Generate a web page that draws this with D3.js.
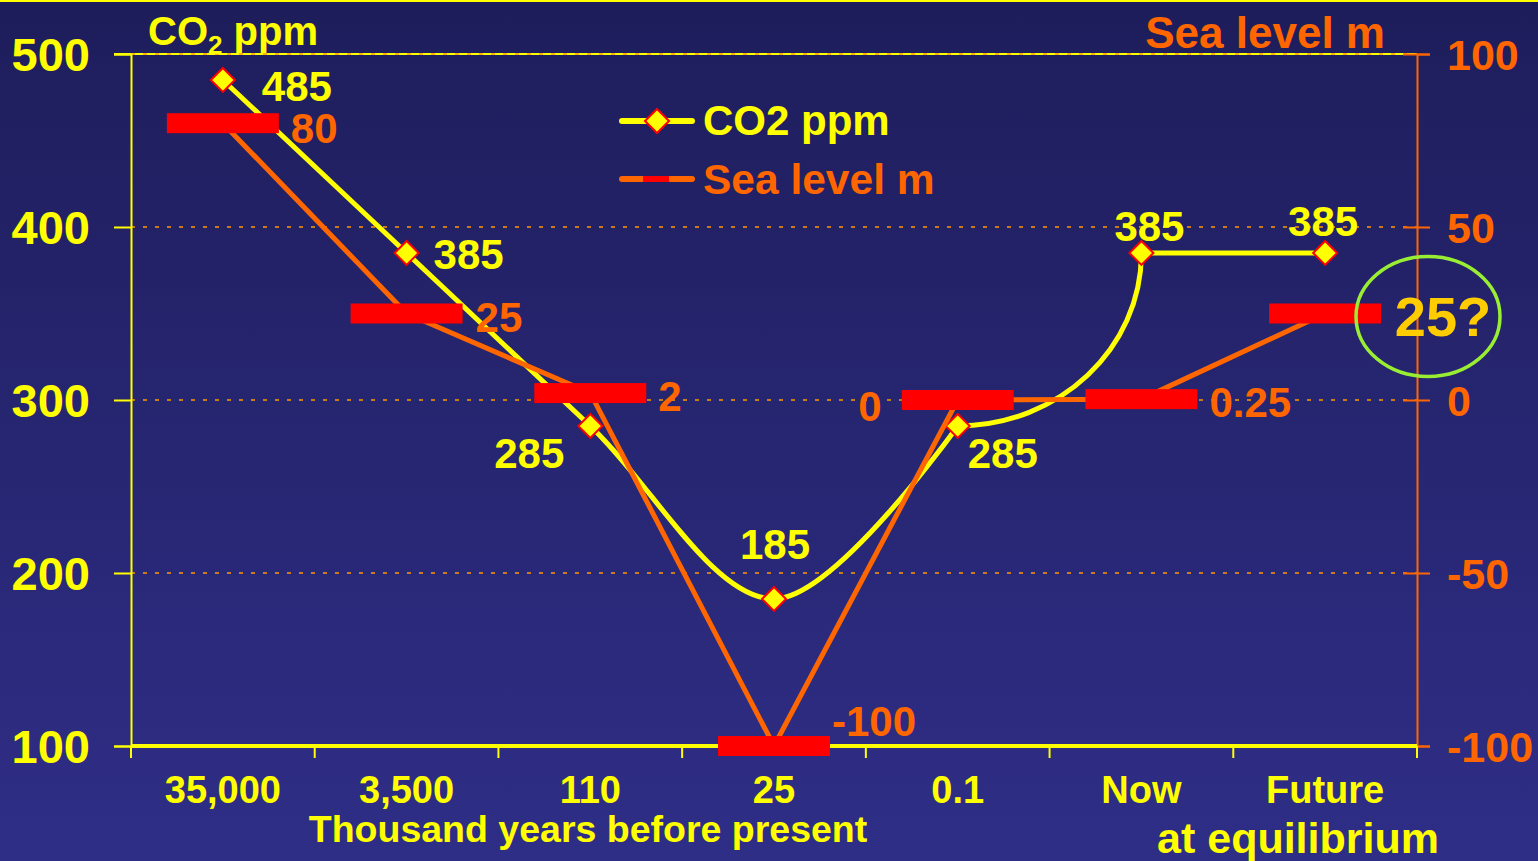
<!DOCTYPE html>
<html>
<head>
<meta charset="utf-8">
<script src="https://cdn.jsdelivr.net/npm/d3@7"></script>
<style>
  html, body { margin: 0; padding: 0; background: #26256f; }
  svg { display: block; }
  text { font-family: "Liberation Sans", Arial, sans-serif; font-weight: bold; }
</style>
</head>
<body>
<script>
// ---- data ----
const categories = ["35,000", "3,500", "110", "25", "0.1", "Now", "Future"];
const co2Values = [485, 385, 285, 185, 285, 385, 385];
const seaLevelValues = [80, 25, 2, -100, 0, 0.25, 25];
const co2LabelText = ["485", "385", "285", "185", "285", "385", "385"];
const seaLabelText = ["80", "25", "2", "-100", "0", "0.25", ""];
const leftTicks = [100, 200, 300, 400, 500];
const rightTicks = [-100, -50, 0, 50, 100];
const gridValues = [200, 300, 400, 500];
const seriesNames = ["CO2 ppm", "Sea level m"];

// ---- layout ----
const W = 1538, H = 861;
const L = 131, R = 1417, T = 54, B = 746;
const YELLOW = "#FFFF00", ORANGE = "#FF6600", RED = "#FF0000";

const svg = d3.select("body").append("svg").attr("width", W).attr("height", H);
const defs = svg.append("defs");
const grad = defs.append("linearGradient").attr("id", "bg").attr("x1", 0).attr("y1", 0).attr("x2", 0).attr("y2", 1);
grad.append("stop").attr("offset", "0%").attr("stop-color", "#1e1d5b");
grad.append("stop").attr("offset", "100%").attr("stop-color", "#2f2e87");
svg.append("rect").attr("width", W).attr("height", H).attr("fill", "url(#bg)");
svg.append("line").attr("x1", 0).attr("x2", W).attr("y1", 1).attr("y2", 1).attr("stroke", YELLOW).attr("stroke-width", 2);

const x = d3.scaleBand().domain(categories).range([L, R]).paddingInner(0).paddingOuter(0);
const yL = d3.scaleLinear().domain([100, 500]).range([B, T]);
const yR = d3.scaleLinear().domain([-100, 100]).range([B, T]);
const cx = c => x(c) + x.bandwidth() / 2;

// top border line (yellow)
svg.append("line").attr("x1", L - 17).attr("x2", R).attr("y1", yL(500)).attr("y2", yL(500))
  .attr("stroke", YELLOW).attr("stroke-width", 2);

// dotted grid lines
svg.append("g").selectAll("line").data(gridValues).join("line")
  .attr("x1", L).attr("x2", R).attr("y1", d => yL(d)).attr("y2", d => yL(d))
  .attr("stroke", "#FF9900").attr("stroke-width", 1.6).attr("stroke-dasharray", "4,8");

// left axis
const gL = svg.append("g").attr("transform", `translate(${L},0)`)
  .call(d3.axisLeft(yL).tickValues(leftTicks).tickSize(17).tickPadding(24).tickFormat(d => String(d)));
gL.select(".domain").attr("stroke", YELLOW).attr("stroke-width", 2);
gL.selectAll(".tick line").attr("stroke", YELLOW).attr("stroke-width", 2);
gL.selectAll(".tick text").attr("fill", YELLOW).style("font-size", "47px").attr("dy", "0.36em");

// right axis
const gR = svg.append("g").attr("transform", `translate(${R},0)`)
  .call(d3.axisRight(yR).tickValues(rightTicks).tickSize(13).tickPadding(17).tickFormat(d => String(d)));
gR.select(".domain").attr("stroke", ORANGE).attr("stroke-width", 2);
gR.selectAll(".tick line").attr("stroke", ORANGE).attr("stroke-width", 2).attr("x1", -14);
gR.selectAll(".tick text").attr("fill", ORANGE).style("font-size", "43px").attr("dy", "0.36em");

// bottom axis: ticks at category boundaries, labels at centres
const gB = svg.append("g").attr("transform", `translate(0,${B})`)
  .call(d3.axisBottom(x).tickSize(0).tickPadding(0));
gB.select(".domain").attr("stroke", YELLOW).attr("stroke-width", 4).attr("d", `M${L},0H${R}`);
gB.selectAll(".tick text").attr("fill", YELLOW).style("font-size", "38px").attr("y", 57).attr("dy", 0);
const bounds = categories.map(c => x(c)).concat([R]);
gB.selectAll("line.bound").data(bounds).join("line").attr("class", "bound")
  .attr("x1", d => d).attr("x2", d => d).attr("y1", 0).attr("y2", 12)
  .attr("stroke", YELLOW).attr("stroke-width", 2);

// axis titles
const t1 = svg.append("text").attr("x", 148).attr("y", 45).attr("fill", YELLOW).style("font-size", "40px");
t1.append("tspan").text("CO");
t1.append("tspan").text("2").style("font-size", "26px").attr("dy", 9);
t1.append("tspan").text(" ppm").attr("dy", -9);
svg.append("text").attr("x", 1385).attr("y", 48).attr("text-anchor", "end").attr("fill", ORANGE)
  .style("font-size", "44px").text("Sea level m");
svg.append("text").attr("x", 588).attr("y", 842).attr("text-anchor", "middle").attr("fill", YELLOW)
  .style("font-size", "37.5px").text("Thousand years before present");
svg.append("text").attr("x", 1298).attr("y", 853).attr("text-anchor", "middle").attr("fill", YELLOW)
  .style("font-size", "43px").text("at equilibrium");

// CO2 line: smoothed through the past, a rounded rise to "Now", straight to "Future"
const co2Pts = categories.map((c, i) => [cx(c), yL(co2Values[i])]);
const cp = d3.path();
d3.line().curve(d3.curveCatmullRom.alpha(0.5)).context(cp)(co2Pts.slice(0, 5));
{
  const [x4, y4] = co2Pts[4], [x5, y5] = co2Pts[5], k = 0.5523;
  cp.bezierCurveTo(x4 + k * (x5 - x4), y4, x5, y5 + k * (y4 - y5), x5, y5);
  cp.lineTo(co2Pts[6][0], co2Pts[6][1]);
}
svg.append("path").attr("d", cp.toString())
  .attr("fill", "none").attr("stroke", YELLOW).attr("stroke-width", 5).attr("stroke-linejoin", "round");
const diamond = (s) => `M0,${-s}L${s},0L0,${s}L${-s},0Z`;
svg.append("g").selectAll("path").data(co2Pts).join("path")
  .attr("transform", d => `translate(${d[0]},${d[1]})`).attr("d", diamond(12))
  .attr("fill", YELLOW).attr("stroke", RED).attr("stroke-width", 2);

// Sea level line
const seaPts = categories.map((c, i) => [cx(c), yR(seaLevelValues[i])]);
svg.append("path").attr("d", d3.line()(seaPts))
  .attr("fill", "none").attr("stroke", ORANGE).attr("stroke-width", 5).attr("stroke-linejoin", "round");
svg.append("g").selectAll("rect").data(seaPts).join("rect")
  .attr("x", d => d[0] - 56).attr("y", d => d[1] - 10).attr("width", 112).attr("height", 20).attr("fill", RED);

// data labels
const co2Layout = [[39, 6, "start"], [27, 1, "start"], [-26, 27, "end"], [1, -55, "middle"], [10, 27, "start"], [8, -27, "middle"], [-2, -32, "middle"]];
const seaLayout = [[68, 5, "start"], [69, 3, "start"], [68, 3, "start"], [58, -25, "start"], [-76, 6, "end"], [68, 3, "start"], [0, 0, "start"]];
svg.append("g").selectAll("text").data(co2Pts).join("text")
  .attr("x", (d, i) => d[0] + co2Layout[i][0]).attr("y", (d, i) => d[1] + co2Layout[i][1])
  .attr("dy", "0.36em").attr("text-anchor", (d, i) => co2Layout[i][2])
  .attr("fill", YELLOW).style("font-size", "42px").text((d, i) => co2LabelText[i]);
svg.append("g").selectAll("text").data(seaPts).join("text")
  .attr("x", (d, i) => d[0] + seaLayout[i][0]).attr("y", (d, i) => d[1] + seaLayout[i][1])
  .attr("dy", "0.36em").attr("text-anchor", (d, i) => seaLayout[i][2])
  .attr("fill", ORANGE).style("font-size", "42px").text((d, i) => seaLabelText[i]);

// "25?" annotation with ellipse
const fut = seaPts[6];
svg.append("ellipse").attr("cx", R + 11).attr("cy", fut[1] + 3).attr("rx", 72).attr("ry", 60)
  .attr("fill", "none").attr("stroke", "#99EE33").attr("stroke-width", 3.5);
svg.append("text").attr("x", R + 26).attr("y", fut[1] + 2).attr("dy", "0.36em").attr("text-anchor", "middle")
  .attr("fill", "#FFCC00").style("font-size", "56px").text(seaLevelValues[6] + "?");

// legend
const lg = svg.append("g").attr("transform", "translate(622,0)");
lg.append("line").attr("x1", 0).attr("x2", 70).attr("y1", 121).attr("y2", 121)
  .attr("stroke", YELLOW).attr("stroke-width", 6).attr("stroke-linecap", "round");
lg.append("path").attr("transform", "translate(35,121)").attr("d", diamond(12))
  .attr("fill", YELLOW).attr("stroke", RED).attr("stroke-width", 2);
lg.append("text").attr("x", 81).attr("y", 135).attr("fill", YELLOW).style("font-size", "42px").text(seriesNames[0]);
lg.append("line").attr("x1", 0).attr("x2", 70).attr("y1", 179).attr("y2", 179)
  .attr("stroke", ORANGE).attr("stroke-width", 6).attr("stroke-linecap", "round");
lg.append("rect").attr("x", 21).attr("y", 176).attr("width", 26).attr("height", 6).attr("fill", RED);
lg.append("text").attr("x", 81).attr("y", 194).attr("fill", ORANGE).style("font-size", "42.5px").text(seriesNames[1]);
</script>
</body>
</html>
